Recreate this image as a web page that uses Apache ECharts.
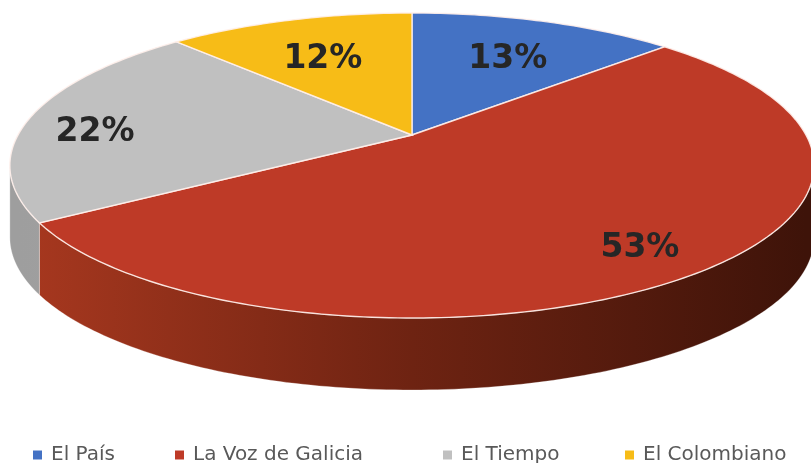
<!DOCTYPE html>
<html>
<head>
<meta charset="utf-8">
<script src="https://cdn.jsdelivr.net/npm/echarts@6/dist/echarts.min.js"></script>
<style>
  html, body { margin: 0; padding: 0; background: #fff; }
  #chart { width: 811px; height: 463px; }
</style>
</head>
<body>
<div id="chart"></div>
<script>
// datos del gráfico
let categories = ["El País", "La Voz de Galicia", "El Tiempo", "El Colombiano"];
let shares = [13, 53, 22, 12]; // porcentaje por periódico

// estilos (no son datos)
let topColors = ["#4472C4", "#BE3A27", "#C0C0C0", "#F7BC17"];
let wallStops = [
  ["#2f5597", "#1f3864"],
  ["#a8381f", "#6e2312", "#3e1309"],
  ["#9e9e9e", "#b4b4b4"],
  ["#c99400", "#a07600"],
];
let labelNudge = [[5, 2], [53, 30], [-67, 9], [-5, 3]];
let legendLeft = [28, 170, 438, 620];

// geometría del pastel 3D (perspectiva simple)
const K = 0.2, RX = 394, RY = 146.4, DEPTH = 72;

function proj(cx, cy, phi, r) {
  let u = Math.sin(phi) * r, v = -Math.cos(phi) * r;
  let d = 1 - K * v;
  return [cx + RX * u / d, cy + RY * v / d];
}

function arc(cx, cy, a0, a1, dy) {
  let pts = [];
  let n = Math.max(2, Math.ceil((a1 - a0) / (Math.PI / 180)));
  for (let i = 0; i <= n; i++) {
    let p = proj(cx, cy, a0 + (a1 - a0) * i / n, 1);
    pts.push([p[0], p[1] + (dy || 0)]);
  }
  return pts;
}

let total = shares.reduce((a, b) => a + b, 0);

function renderSlice(params, api) {
  let idx = params.seriesIndex;
  let cx = api.getWidth() * 0.508, cy = 135;
  let before = 0;
  for (let i = 0; i < idx; i++) before += shares[i];
  let a0 = before / total * Math.PI * 2;
  let a1 = (before + api.value(0)) / total * Math.PI * 2;
  let children = [];

  // pared lateral (solo la parte frontal visible)
  let fR = Math.acos(-K), fL = Math.PI * 2 - Math.acos(-K);
  let w0 = Math.max(a0, fR), w1 = Math.min(a1, fL);
  if (w1 > w0) {
    let top = arc(cx, cy, w0, w1, 0);
    let bot = arc(cx, cy, w0, w1, DEPTH).reverse();
    let st = wallStops[idx];
    let stops = st.map((c, i) => ({ offset: i / (st.length - 1), color: c }));
    children.push({
      type: "polygon",
      z2: 1,
      shape: { points: top.concat(bot) },
      style: {
        fill: new echarts.graphic.LinearGradient(cx - RX, 0, cx + RX, 0, stops, true),
        stroke: "rgba(255,255,255,0.35)",
        lineWidth: 0.8,
      },
    });
  }

  // cara superior
  let pts = [[cx, cy]].concat(arc(cx, cy, a0, a1, 0));
  children.push({
    type: "polygon",
    z2: 2,
    shape: { points: pts },
    style: { fill: topColors[idx], stroke: "rgba(255,240,235,0.9)", lineWidth: 1.4 },
  });

  // etiqueta de porcentaje
  let mid = (a0 + a1) / 2;
  let lp = proj(cx, cy, mid, 0.65);
  children.push({
    type: "text",
    z2: 10,
    x: lp[0] + labelNudge[idx][0],
    y: lp[1] + labelNudge[idx][1],
    style: {
      text: Math.round(api.value(0) / total * 100) + "%",
      fill: "#262626",
      font: "bold 33px 'DejaVu Sans'",
      align: "center",
      verticalAlign: "middle",
    },
  });

  return { type: "group", children: children };
}

var myChart = echarts.init(document.getElementById("chart"));

option = {
  backgroundColor: "#fff",
  animation: false,
  color: topColors,
  legend: categories.map((c, i) => ({
    left: legendLeft[i],
    top: 440,
    itemWidth: 9,
    itemHeight: 9,
    icon: "rect",
    selectedMode: false,
    textStyle: { fontFamily: "DejaVu Sans", fontSize: 20, color: "#595959", padding: [0, 0, 0, 4] },
    data: [c],
  })),
  series: categories.map((c, i) => ({
    type: "custom",
    name: c,
    coordinateSystem: "none",
    itemStyle: { color: topColors[i] },
    renderItem: renderSlice,
    data: [[shares[i]]],
  })),
};
myChart.setOption(option);
</script>
</body>
</html>
